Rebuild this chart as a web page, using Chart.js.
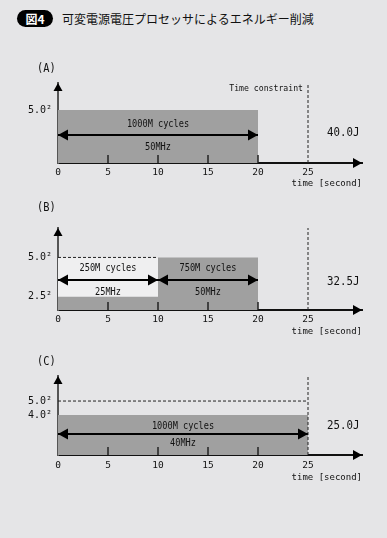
<!DOCTYPE html>
<html>
<head>
<meta charset="utf-8">
<script src="https://cdn.jsdelivr.net/npm/chart.js@4.4.1/dist/chart.umd.min.js"></script>
<style>
  html, body { margin: 0; padding: 0; }
  body { width: 387px; height: 538px; background: #e5e5e7; position: relative; overflow: hidden; }
  .badge { position: absolute; left: 17px; top: 10px; width: 36px; height: 17px; border-radius: 9px;
           background: #000; color: #fff; font: bold 12px "Noto Sans CJK JP"; line-height: 17px; text-align: center; }
  .title { position: absolute; left: 62px; top: 10px; font: 400 12px "Noto Sans CJK JP"; line-height: 17px; color: #111; }
  canvas { position: absolute; left: 0; }
</style>
</head>
<body>
<div class="badge">図4</div>
<div class="title">可変電源電圧プロセッサによるエネルギー削減</div>
<canvas id="chartA" width="387" height="140" style="top:55px"></canvas>
<canvas id="chartB" width="387" height="143" style="top:195px"></canvas>
<canvas id="chartC" width="387" height="200" style="top:338px"></canvas>
<script>
// time axis (seconds)
const xTicks = [0, 5, 10, 15, 20, 25];
const deadline = 25;
const fullLevel = 25; // 5.0^2, full supply voltage squared

const panelNames = ['(A)', '(B)', '(C)'];
const energy = ['40.0J', '32.5J', '25.0J'];

// (A) full voltage all the way
const aStarts = [0];
const aEnds = [20];
const aLevels = [25];
const aCycles = ['1000M cycles'];
const aFreqs = ['50MHz'];
const aYTicks = [25];
const aYLabels = ['5.0²'];

// (B) half voltage, then full voltage
const bStarts = [0, 10];
const bEnds = [10, 20];
const bLevels = [6.25, 25];
const bCycles = ['250M cycles', '750M cycles'];
const bFreqs = ['25MHz', '50MHz'];
const bYTicks = [6.25, 25];
const bYLabels = ['2.5²', '5.0²'];

// (C) lowered voltage until the deadline
const cStarts = [0];
const cEnds = [25];
const cLevels = [18.5];
const cCycles = ['1000M cycles'];
const cFreqs = ['40MHz'];
const cYTicks = [18.5, 25];
const cYLabels = ['4.0²', '5.0²'];

const mono = '"DejaVu Sans Mono", monospace';

const panels = [
  { id: 'chartA', top: 55, h: 140, areaTop: 83, areaBottom: 163, yMax: 37.7, arrowAt: 13.2, gap: [11, 12],
    nameY: 69, energyY: 133, xh: 26, tickPad: 4, note: 'Time constraint', noteY: 89, idleFill: false,
    name: panelNames[0], energy: energy[0], starts: aStarts, ends: aEnds, levels: aLevels,
    cycles: aCycles, freqs: aFreqs, yTicks: aYTicks, yLabels: aYLabels },
  { id: 'chartB', top: 195, h: 143, areaTop: 228, areaBottom: 310, yMax: 39.0, arrowAt: 14.3, gap: [12, 12],
    nameY: 208, energyY: 282, xh: 27, tickPad: 4, note: '', idleFill: true,
    name: panelNames[1], energy: energy[1], starts: bStarts, ends: bEnds, levels: bLevels,
    cycles: bCycles, freqs: bFreqs, yTicks: bYTicks, yLabels: bYLabels },
  { id: 'chartC', top: 338, h: 200, areaTop: 376, areaBottom: 455, yMax: 36.6, arrowAt: 9.7, gap: [8, 9],
    nameY: 362, energyY: 426, xh: 28, tickPad: 5, note: '', idleFill: false,
    name: panelNames[2], energy: energy[2], starts: cStarts, ends: cEnds, levels: cLevels,
    cycles: cCycles, freqs: cFreqs, yTicks: cYTicks, yLabels: cYLabels }
];

function head(ctx, x, y, dx, dy, len, half) {
  // tip at (x, y), pointing along (dx, dy)
  ctx.beginPath();
  ctx.moveTo(x, y);
  ctx.lineTo(x - dx * len - dy * half, y - dy * len - dx * half);
  ctx.lineTo(x - dx * len + dy * half, y - dy * len + dx * half);
  ctx.closePath();
  ctx.fill();
}

// narrow text, like the half-width gothic of the original
function narrowText(ctx, text, x, y, size, align) {
  ctx.save();
  ctx.translate(x, y);
  ctx.scale(0.86, 1);
  ctx.font = size + 'px ' + mono;
  ctx.textAlign = align;
  ctx.textBaseline = 'middle';
  ctx.fillText(text, 0, 0);
  ctx.restore();
}

function makeDecor(p) {
  return {
    id: 'decor',
    afterDatasetsDraw(chart) {
      const { ctx, scales: { x, y } } = chart;
      ctx.save();
      // short tick marks standing on the time axis
      ctx.strokeStyle = '#222';
      ctx.lineWidth = 1.5;
      xTicks.forEach(v => {
        if (v <= 0 || v >= deadline) return;
        const px = Math.round(x.getPixelForValue(v));
        ctx.beginPath();
        ctx.moveTo(px, y.bottom);
        ctx.lineTo(px, y.bottom - 8);
        ctx.stroke();
      });
      // arrow heads on the cycle arrows
      ctx.fillStyle = '#000';
      chart.data.datasets.forEach((ds, i) => {
        if (!ds.arrow) return;
        const pts = chart.getDatasetMeta(i).data;
        head(ctx, pts[0].x, pts[0].y, -1, 0, 10, 5.5);
        head(ctx, pts[pts.length - 1].x, pts[pts.length - 1].y, 1, 0, 10, 5.5);
      });
      // cycle / frequency labels
      ctx.fillStyle = '#111';
      const ay = y.getPixelForValue(p.arrowAt);
      p.starts.forEach((s, i) => {
        const mid = (x.getPixelForValue(s) + x.getPixelForValue(p.ends[i])) / 2;
        narrowText(ctx, p.cycles[i], mid, ay - p.gap[0], 10, 'center');
        narrowText(ctx, p.freqs[i], mid, ay + p.gap[1], 10, 'center');
      });
      if (p.note) {
        narrowText(ctx, p.note, x.getPixelForValue(deadline) - 5, p.noteY - p.top, 9.5, 'right');
      }
      narrowText(ctx, p.name, 37, p.nameY - p.top, 12, 'left');
      narrowText(ctx, p.energy, 327, p.energyY - p.top, 12.5, 'left');
      ctx.restore();
    },
    afterDraw(chart) {
      const { ctx, chartArea: a } = chart;
      ctx.save();
      ctx.fillStyle = '#000';
      head(ctx, a.right, a.bottom, 1, 0, 9, 5);
      head(ctx, a.left, a.top, 0, -1, 8, 4.5);
      ctx.restore();
    }
  };
}

function buildDatasets(p) {
  const bar = [];
  p.starts.forEach((s, i) => {
    bar.push({ x: s, y: p.levels[i] }, { x: p.ends[i], y: p.levels[i] });
  });
  const sets = [
    { data: bar, fill: 'origin', backgroundColor: '#a0a0a0', borderWidth: 0, order: 1 }
  ];
  // 5.0^2 reference where the processor runs below full voltage
  p.starts.forEach((s, i) => {
    if (p.levels[i] >= fullLevel) return;
    sets.push({
      data: [{ x: s, y: fullLevel }, { x: p.ends[i], y: fullLevel }],
      borderColor: '#222', borderWidth: 1, borderDash: [3, 2],
      fill: p.idleFill ? 'origin' : false, backgroundColor: '#efeff0', order: 2
    });
  });
  // time constraint
  sets.push({
    data: [{ x: deadline, y: 0 }, { x: deadline, y: p.yMax }],
    borderColor: '#222', borderWidth: 1, borderDash: [3, 2], fill: false, order: 0
  });
  // cycle arrows
  p.starts.forEach((s, i) => {
    sets.push({
      data: [{ x: s, y: p.arrowAt }, { x: p.ends[i], y: p.arrowAt }],
      borderColor: '#000', borderWidth: 2, fill: false, arrow: true, order: 0
    });
  });
  return sets;
}

panels.forEach(p => {
  new Chart(document.getElementById(p.id), {
    type: 'line',
    data: { datasets: buildDatasets(p) },
    options: {
      responsive: false,
      animation: false,
      events: [],
      layout: {
        padding: {
          left: 0,
          right: 387 - 362,
          top: p.areaTop - p.top,
          bottom: p.h - (p.areaBottom - p.top) - p.xh
        }
      },
      elements: { point: { radius: 0 }, line: { tension: 0 } },
      plugins: { legend: { display: false }, tooltip: { enabled: false } },
      scales: {
        x: {
          type: 'linear', min: 0, max: 30.4, z: 1,
          grid: { display: false, drawTicks: false },
          border: { color: '#111', width: 2 },
          afterBuildTicks: s => { s.ticks = xTicks.map(v => ({ value: v })); },
          afterFit: s => { s.height = p.xh; },
          ticks: { padding: p.tickPad, color: '#111', font: { family: mono, size: 9.5 }, maxRotation: 0, autoSkip: false },
          title: { display: true, text: 'time [second]', align: 'end', padding: 0, color: '#111',
                   font: { family: mono, size: 9 } }
        },
        y: {
          min: 0, max: p.yMax, z: 1,
          grid: { display: false, drawTicks: false },
          border: { color: '#555', width: 2 },
          afterBuildTicks: s => { s.ticks = p.yTicks.map(v => ({ value: v })); },
          afterFit: s => { s.width = 58; },
          ticks: { padding: 6, color: '#111', font: { family: mono, size: 10 }, autoSkip: false,
                   callback: (v, i) => p.yLabels[i] }
        }
      }
    },
    plugins: [makeDecor(p)]
  });
});
</script>
</body>
</html>
